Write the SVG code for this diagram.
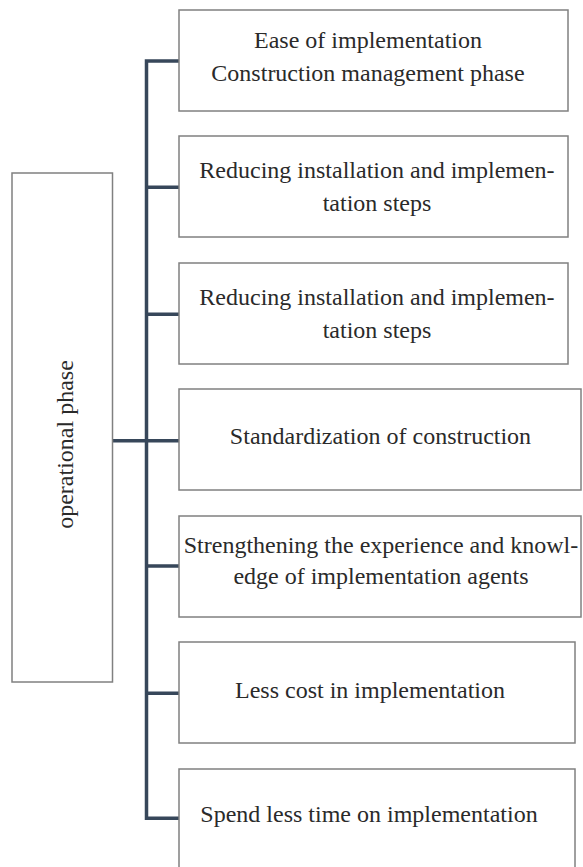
<svg xmlns="http://www.w3.org/2000/svg" width="583" height="867" viewBox="0 0 583 867">
<style>
.box{fill:#ffffff;stroke:#808080;stroke-width:1.5}
.t{font-family:"Liberation Serif","Times New Roman",serif;font-size:24px;fill:#2a2a2a;text-anchor:middle}
.c{fill:none;stroke:#37475a;stroke-width:3.5;stroke-linecap:butt;stroke-linejoin:miter}
</style>
<rect width="583" height="867" fill="#ffffff"/>
<g id="connectors">
<path class="c" d="M179,61 H146.5 V818.3 H179"/>
<path class="c" d="M146.5,187.3 H179 M146.5,314.3 H179 M112.5,440.7 H179 M146.5,566 H179 M146.5,693.3 H179"/>
</g>
<g id="root">
<rect class="box" x="12" y="173" width="100.5" height="509"/>
<text class="t" transform="translate(73,444.5) rotate(-90)">operational phase</text>
</g>
<g id="n1">
<rect class="box" x="179" y="10" width="389" height="101"/>
<text class="t" x="368" y="48">Ease of implementation</text>
<text class="t" x="368" y="81">Construction management phase</text>
</g>
<g id="n2">
<rect class="box" x="179" y="136" width="389" height="101"/>
<text class="t" x="377" y="178">Reducing installation and implemen-</text>
<text class="t" x="377" y="211">tation steps</text>
</g>
<g id="n3">
<rect class="box" x="179" y="263" width="389" height="101"/>
<text class="t" x="377" y="305">Reducing installation and implemen-</text>
<text class="t" x="377" y="338">tation steps</text>
</g>
<g id="n4">
<rect class="box" x="179" y="389" width="402" height="101"/>
<text class="t" x="380.5" y="444">Standardization of construction</text>
</g>
<g id="n5">
<rect class="box" x="179" y="516" width="402" height="101"/>
<text class="t" x="381" y="553">Strengthening the experience and knowl-</text>
<text class="t" x="381" y="584">edge of implementation agents</text>
</g>
<g id="n6">
<rect class="box" x="179" y="642" width="396" height="101"/>
<text class="t" x="370" y="698">Less cost in implementation</text>
</g>
<g id="n7">
<rect class="box" x="179" y="769" width="396" height="101"/>
<text class="t" x="369" y="822">Spend less time on implementation</text>
</g>
</svg>
